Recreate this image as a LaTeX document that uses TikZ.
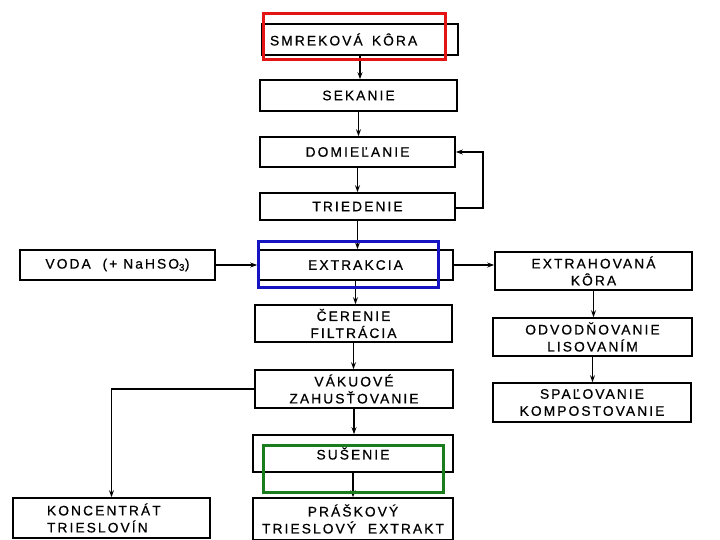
\documentclass[tikz,border=0pt]{standalone}
\usepackage{fontspec}
\setmainfont{Liberation Sans}[LetterSpace=15,FakeBold=0.6]
\usetikzlibrary{arrows.meta,positioning}
\definecolor{hlred}{RGB}{228,20,20}
\definecolor{hlblue}{RGB}{20,20,195}
\definecolor{hlgreen}{RGB}{25,125,30}
\tikzset{
  box/.style={draw=black, line width=1.6pt, rectangle, inner sep=0pt, align=center,
    font=\fontsize{13.8}{17}\selectfont},
  arr/.style={line width=1.5pt, -{Stealth[length=7pt,width=5pt]}},
  hl/.style={line width=3pt, fill=none},
}
\begin{document}
\begin{tikzpicture}[x=1pt,y=-1pt]
\useasboundingbox (0,0) rectangle (720,540);
% boxes
\node[box, minimum width=196pt, minimum height=31pt, text width=180pt, align=left] (smr) at (360,39.5) {SMREKOVÁ\ \ KÔRA};
\node[box, minimum width=197pt, minimum height=31pt] (sek) at (358.5,95.5) {SEKANIE};
\node[box, minimum width=195pt, minimum height=30pt] (dom) at (357.5,152) {DOMIEĽANIE};
\node[box, minimum width=195pt, minimum height=27pt] (tri) at (357.5,206.5) {TRIEDENIE};
\node[box, minimum width=195pt, minimum height=30pt] (ext) at (355.5,265) {EXTRAKCIA};
\node[box, minimum width=195pt, minimum height=30pt] (voda) at (117.5,265) {VODA\ \ (+ NaHSO\textsubscript{3})};
\node[box, minimum width=197pt, minimum height=38pt] (exh) at (593.5,271) {EXTRAHOVANÁ\\KÔRA};
\node[box, minimum width=197pt, minimum height=37pt] (cer) at (353.5,323.5) {ČERENIE\\FILTRÁCIA};
\node[box, minimum width=198pt, minimum height=38pt] (vak) at (354,389) {VÁKUOVÉ\\ZAHUSŤOVANIE};
\node[box, minimum width=199pt, minimum height=38pt] (odv) at (592.5,337) {ODVODŇOVANIE\\LISOVANÍM};
\node[box, minimum width=198pt, minimum height=39pt] (spa) at (592,402.5) {SPAĽOVANIE\\KOMPOSTOVANIE};
\node[box, minimum width=200pt, minimum height=37pt] (sus) at (353,453.5) {SUŠENIE};
\node[box, minimum width=200pt, minimum height=42pt] (pra) at (353,519) {PRÁŠKOVÝ\\TRIESLOVÝ\ \ EXTRAKT};
\node[box, minimum width=197pt, minimum height=40pt, inner xsep=34pt, text width=129pt, align=left] (kon) at (111.5,518) {KONCENTRÁT\\TRIESLOVÍN};
% connectors
\draw[arr] (smr.south) -- (smr.south |- sek.north);
\draw[arr] (sek.south) -- (sek.south |- dom.north);
\draw[arr] (dom.south) -- (dom.south |- tri.north);
\draw[arr] (tri.south) -- (tri.south |- ext.north);
\draw[arr] (ext.south) -- (ext.south |- cer.north);
\draw[arr] (cer.south) -- (cer.south |- vak.north);
\draw[arr] (vak.south) -- (vak.south |- sus.north);
\draw[arr] (sus.south) -- (sus.south |- pra.north);
\draw[arr] (voda.east) -- (voda.east -| ext.west);
\draw[arr] (ext.east) -- (ext.east -| exh.west);
\draw[arr] (exh.south) -- (exh.south |- odv.north);
\draw[arr] (odv.south) -- (odv.south |- spa.north);
\coordinate (loop) at (483,208);
\draw[arr] (tri.east |- loop) -- (loop) |- (dom.east);
\draw[arr] (vak.west) -| (kon.north);
% highlight frames
\draw[hl, hlred] (263,14) rectangle (445,60);
\draw[hl, hlblue] (258,241) rectangle (438,287);
\draw[hl, hlgreen] (263,445) rectangle (443,492);
\end{tikzpicture}
\end{document}
